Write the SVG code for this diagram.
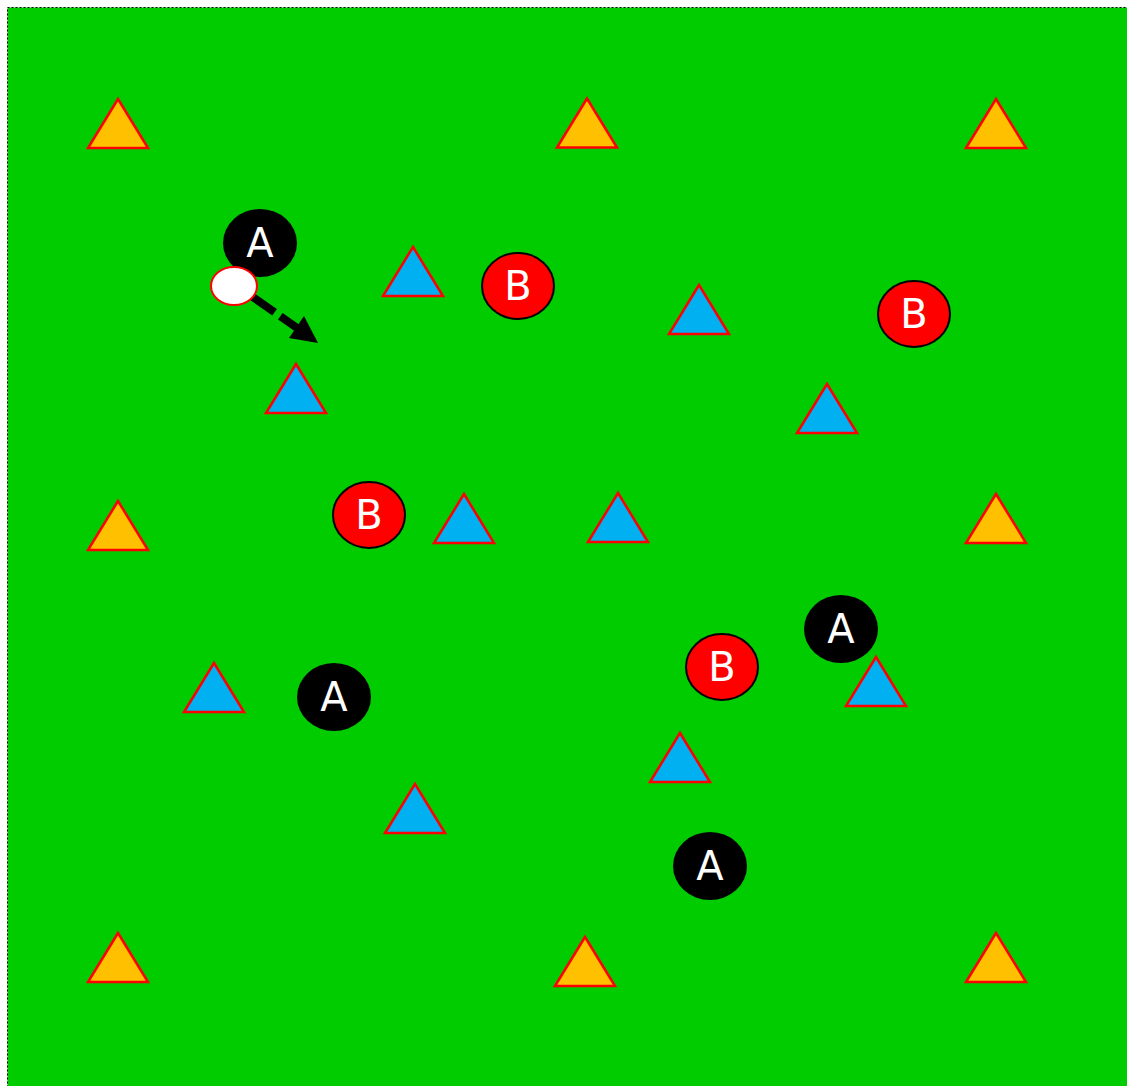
<svg xmlns="http://www.w3.org/2000/svg" width="1127" height="1086" viewBox="0 0 1127 1086">
<defs>
<style>
.cone{fill:#ffc000;stroke:#ff0000;stroke-width:2.5;stroke-linejoin:miter}
.marker{fill:#00b0f0;stroke:#ff0000;stroke-width:2.5}
.pa{fill:#000000}
.pb{fill:#ff0000;stroke:#000000;stroke-width:2}
.lbl{font-family:"DejaVu Sans","Liberation Sans",sans-serif;font-size:40px;fill:#ffffff;text-anchor:middle;dominant-baseline:central}
</style>
<polygon id="tri" points="0,-24.5 30,24.5 -30,24.5"/>
</defs>
<rect x="7.5" y="7.5" width="1130" height="1090" fill="#00cc00" stroke="#000000" stroke-width="1" stroke-dasharray="2,2"/>
<g id="cones">
<use href="#tri" class="cone" x="118" y="123.5"/>
<use href="#tri" class="cone" x="587" y="123"/>
<use href="#tri" class="cone" x="996" y="123.5"/>
<use href="#tri" class="cone" x="118" y="525.5"/>
<use href="#tri" class="cone" x="996" y="518.5"/>
<use href="#tri" class="cone" x="118" y="957.5"/>
<use href="#tri" class="cone" x="585" y="961.5"/>
<use href="#tri" class="cone" x="996" y="957.5"/>
</g>
<g id="markers">
<use href="#tri" class="marker" x="413" y="271.5"/>
<use href="#tri" class="marker" x="699" y="309.5"/>
<use href="#tri" class="marker" x="296" y="388.5"/>
<use href="#tri" class="marker" x="827" y="408.5"/>
<use href="#tri" class="marker" x="464" y="518.5"/>
<use href="#tri" class="marker" x="618" y="517.5"/>
<use href="#tri" class="marker" x="214" y="687.5"/>
<use href="#tri" class="marker" x="876" y="681.5"/>
<use href="#tri" class="marker" x="680" y="757.5"/>
<use href="#tri" class="marker" x="415" y="808.5"/>
</g>
<g id="playerA1"><ellipse class="pa" cx="260" cy="243" rx="37" ry="34"/><text class="lbl" x="260" y="243">A</text></g>
<g id="playerA2"><ellipse class="pa" cx="334" cy="697" rx="37" ry="34"/><text class="lbl" x="334" y="697">A</text></g>
<g id="playerA3"><ellipse class="pa" cx="841" cy="629" rx="37" ry="34"/><text class="lbl" x="841" y="629">A</text></g>
<g id="playerA4"><ellipse class="pa" cx="710" cy="866" rx="37" ry="34"/><text class="lbl" x="710" y="866">A</text></g>
<g id="playerB1"><ellipse class="pb" cx="518" cy="286" rx="36" ry="33"/><text class="lbl" x="518" y="286">B</text></g>
<g id="playerB2"><ellipse class="pb" cx="914" cy="314" rx="36" ry="33"/><text class="lbl" x="914" y="314">B</text></g>
<g id="playerB3"><ellipse class="pb" cx="369" cy="515" rx="36" ry="33"/><text class="lbl" x="369" y="515">B</text></g>
<g id="playerB4"><ellipse class="pb" cx="722" cy="667" rx="36" ry="33"/><text class="lbl" x="722" y="667">B</text></g>
<g id="connectors">
<line x1="250" y1="295" x2="300" y2="330" stroke="#000000" stroke-width="8" stroke-dasharray="30,7"/>
<polygon points="318,343 289,338 304,316" fill="#000000"/>
</g>
<g id="ball"><ellipse cx="234" cy="286" rx="23" ry="19" fill="#ffffff" stroke="#ff0000" stroke-width="2"/></g>
</svg>
